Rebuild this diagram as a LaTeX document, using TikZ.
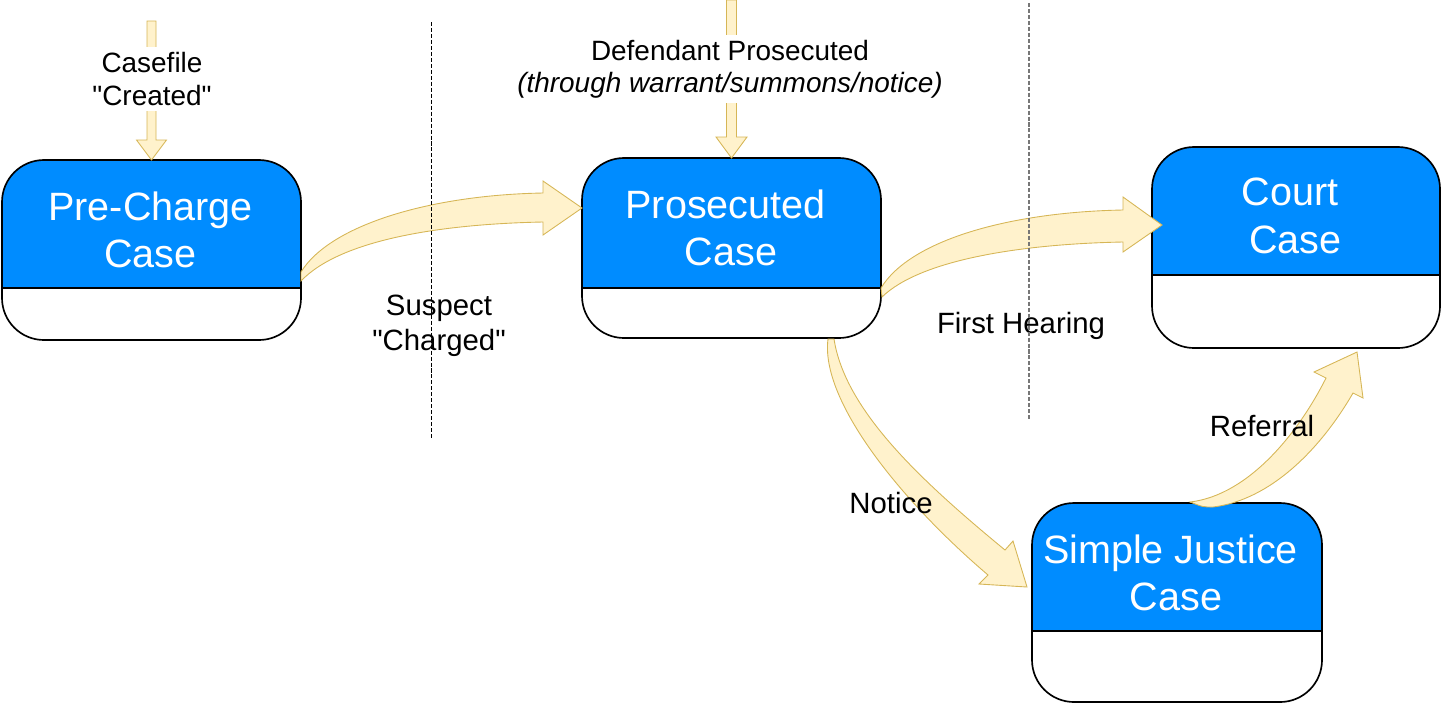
\documentclass[tikz,border=0pt]{standalone}
\usepackage{fontspec}
\setmainfont{Liberation Sans}[Ligatures=TeXOff]
\usetikzlibrary{fit}
\definecolor{boxblue}{RGB}{0,140,255}
\definecolor{arrowfill}{HTML}{FFF2CC}
\definecolor{arrowline}{HTML}{D6B656}
\definecolor{sepgray}{HTML}{777777}
\newcommand\drawcasebox[6]{% name, x1, y1, x2, y2, divider y
  \begin{scope}
    \clip[rounded corners=0.84cm] (#2,#3) rectangle (#4,#5);
    \fill[white] (#2,#3) rectangle (#4,#5);
    \fill[boxblue] (#2,#3) rectangle (#4,#6);
  \end{scope}
  \draw[boxline] (#2,#6) -- (#4,#6);
  \node[casebox,fit={(#2,#3)(#4,#5)}] (#1) {};
}
\newcommand\trailsp{\rule{0.278em}{0pt}}
\begin{document}
\begin{tikzpicture}[x=0.02cm,y=-0.02cm,
  boxline/.style={draw=black,line width=0.95pt},
  casebox/.style={boxline,rounded corners=0.84cm,inner sep=0pt,outer sep=0pt},
  boxtitle/.style={text=white,align=center,font=\fontsize{22.5}{26.9}\selectfont,inner sep=0pt},
  fat/.style={fill=arrowfill,draw=arrowline,line width=0.5pt,line join=miter},
  toplabel/.style={align=center,fill=white,font=\fontsize{15.9}{18.4}\selectfont,inner xsep=2pt,inner ysep=3pt},
  edgelabel/.style={align=center,font=\fontsize{16.7}{20.2}\selectfont,inner sep=0pt},
  separator/.style={line width=0.6pt,dash pattern=on 2.3pt off 1.1pt}]

\useasboundingbox (0,0) rectangle (1442,704);

% boxes
\drawcasebox{pre}{2}{160}{301}{340}{288}
\drawcasebox{pros}{582}{158}{881}{338}{288}
\drawcasebox{court}{1152}{147}{1440}{348}{275}
\drawcasebox{simple}{1032}{503}{1322}{702}{631}

\node[boxtitle] (pretitle) at (150.5,230) {Pre-Charge\\Case};
\node[boxtitle] (prostitle) at (731,227.5) {Prosecuted\trailsp\\Case};
\node[boxtitle] (courttitle) at (1295.5,216) {Court\trailsp\\Case};
\node[boxtitle] (simpletitle) at (1176,572.5) {Simple Justice\trailsp\\Case};

% vertical entry arrows
\filldraw[fat] (147,21) -- (156,21) -- (156,140) -- (166.5,140) -- (pre.north)
  -- (136.5,140) -- (147,140) -- cycle;
\filldraw[fat] (726.5,0) -- (736.5,0) -- (736.5,137) -- (747,137) -- (pros.north)
  -- (716,137) -- (726.5,137) -- cycle;

% Pre-Charge -> Prosecuted
\filldraw[fat] (301,272) .. controls (330,225) and (430,195) .. (543,193)
  -- (543,181) -- (582,208) -- (543,235) -- (543,222)
  .. controls (440,224) and (340,240) .. (301,281) -- cycle;
% Prosecuted -> Court
\filldraw[fat] (881,288) .. controls (910,240) and (1010,212) .. (1123,210)
  -- (1123,197) -- (1162,225) -- (1123,252) -- (1123,242)
  .. controls (1020,244) and (920,260) .. (882,297) -- cycle;
% Prosecuted -> Simple Justice
\filldraw[fat] (828,339) .. controls (820,400) and (900,500) .. (988,575)
  -- (979,584) -- (1027,587) -- (1013,541) -- (1005,550)
  .. controls (920,480) and (845,410) .. (834,339) -- cycle;
% Simple Justice -> Court
\filldraw[fat] (1190,502) .. controls (1250,495) and (1300,430) .. (1326,378)
  -- (1314,372) -- (1357,352) -- (1363,398) -- (1353,393)
  .. controls (1320,450) and (1270,500) .. (1213,507)
  .. controls (1203,507) .. (1190,502) -- cycle;

% labels
\node[toplabel] (casefile) at (152,79) {Casefile\\"Created"};
\node[toplabel] (defendant) at (730,69) {Defendant Prosecuted\\\textit{(through warrant/summons/notice)}};
\node[edgelabel] (charged) at (439,326) {Suspect\\"Charged"};
\node[edgelabel] (hearing) at (1021,325.5) {First Hearing};
\node[edgelabel] (notice) at (891,503) {Notice};
\node[edgelabel] (referral) at (1262,425.5) {Referral};

% separators
\coordinate (sepAtop) at (431.5,22);
\coordinate (sepAbot) at (431.5,440);
\coordinate (sepBtop) at (1029,3);
\coordinate (sepBbot) at (1029,420);
\draw[separator,black] (sepAtop) -- (sepAbot);
\draw[separator,sepgray] (sepBtop) -- (sepBbot);
\end{tikzpicture}
\end{document}
